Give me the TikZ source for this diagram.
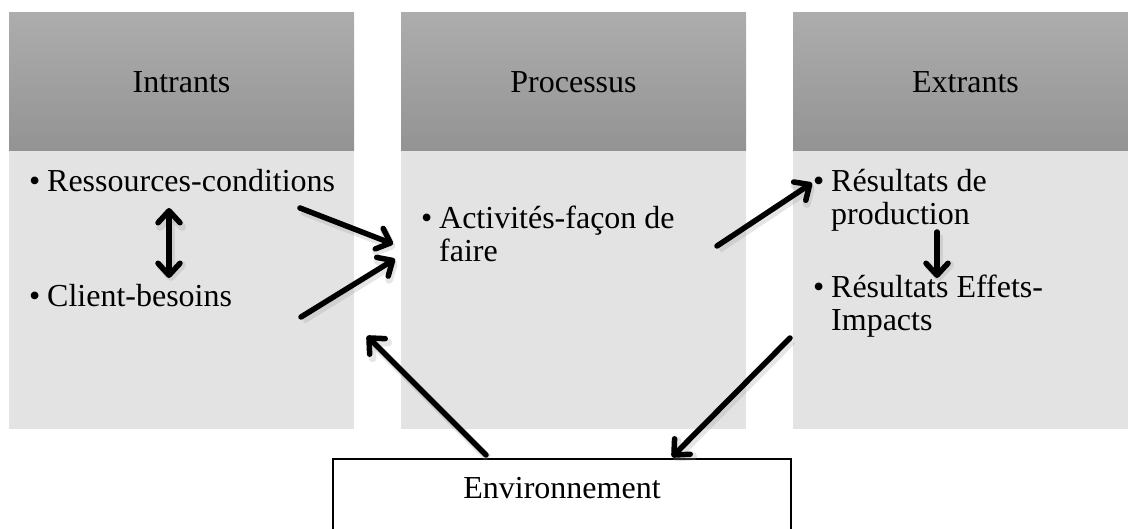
\documentclass[tikz,border=0pt]{standalone}
\usepackage{fontspec}
\setmainfont{Liberation Serif}
\usetikzlibrary{arrows.meta}
\definecolor{headtop}{HTML}{ADADAD}
\definecolor{headbot}{HTML}{939393}
\definecolor{bodygray}{HTML}{E3E3E3}
\newcommand{\bigfont}{\fontsize{32}{33}\selectfont}
\newcommand{\bul}{\makebox[18pt][l]{\textbullet}}
\begin{document}
\begin{tikzpicture}[x=1pt,y=-1pt,
  header/.style={shape=rectangle, minimum width=345pt, minimum height=138pt,
    inner sep=0pt, top color=headtop, bottom color=headbot, font=\bigfont},
  panel/.style={shape=rectangle, minimum width=345pt, minimum height=278pt,
    inner sep=0pt, fill=bodygray},
  entry/.style={anchor=base west, inner sep=0pt, font=\bigfont},
  barb/.tip={Straight Barb[length=12pt,width=22pt,line cap=round,line join=round]},
  shade/.style={preaction={draw=black!40, opacity=0.25, line width=8pt,
      transform canvas={shift={(2pt,-3pt)}}}},
  flow/.style={line width=5.5pt, line cap=round, -barb, shade},
  both/.style={line width=5.5pt, barb-barb, shade}
]
\useasboundingbox (0,0) rectangle (1128,529);
\clip (0,0) rectangle (1128,529);

% three columns: header band and body panel
\node[header] (hin)  at (181.5,82) {Intrants};
\node[header] (hpro) at (573.5,82) {Processus};
\node[header] (hout) at (965.5,82) {Extrants};
\node[panel] (bin)  at (181.5,290) {};
\node[panel] (bpro) at (573.5,290) {};
\node[panel] (bout) at (965.5,290) {};

% bullet items
\node[entry] (res) at (29,192) {\bul Ressources-conditions};
\node[entry] (cli) at (29,307) {\bul Client-besoins};
\node[entry] (act) at (421,229) {\begin{tabular}[t]{@{}l@{}l@{}}\bul&Activités-façon de\\&faire\end{tabular}};
\node[entry] (prod) at (813,192) {\begin{tabular}[t]{@{}l@{}l@{}}\bul&Résultats de\\&production\end{tabular}};
\node[entry] (eff) at (813,298) {\begin{tabular}[t]{@{}l@{}l@{}}\bul&Résultats Effets-\\&Impacts\end{tabular}};

% environment box
\node[draw, line width=1.8pt, fill=white, anchor=north, minimum width=458pt,
  inner sep=0pt, text height=40pt, text depth=42pt, font=\bigfont]
  (env) at (562,458) {Environnement};

% arrow end points
\coordinate (a1s) at (300,208);  \coordinate (a1e) at (393,244);
\coordinate (a2s) at (301,317);  \coordinate (a2e) at (395,259);
\coordinate (a3s) at (717,246);  \coordinate (a3e) at (812,183);
\coordinate (a4s) at (169,208);  \coordinate (a4e) at (169,278);
\coordinate (a5s) at (937,232);  \coordinate (a5e) at (937,278);
\coordinate (a6s) at (790,338);  \coordinate (a6e) at (672,457);
\coordinate (a7s) at (486,455);  \coordinate (a7e) at (367,336);

\draw[flow] (a1s) -- (a1e);
\draw[flow] (a2s) -- (a2e);
\draw[flow] (a3s) -- (a3e);
\draw[both] (a4s) -- (a4e);
\draw[flow] (a5s) -- (a5e);
\draw[flow] (a6s) -- (a6e);
\draw[flow] (a7s) -- (a7e);
\end{tikzpicture}
\end{document}
